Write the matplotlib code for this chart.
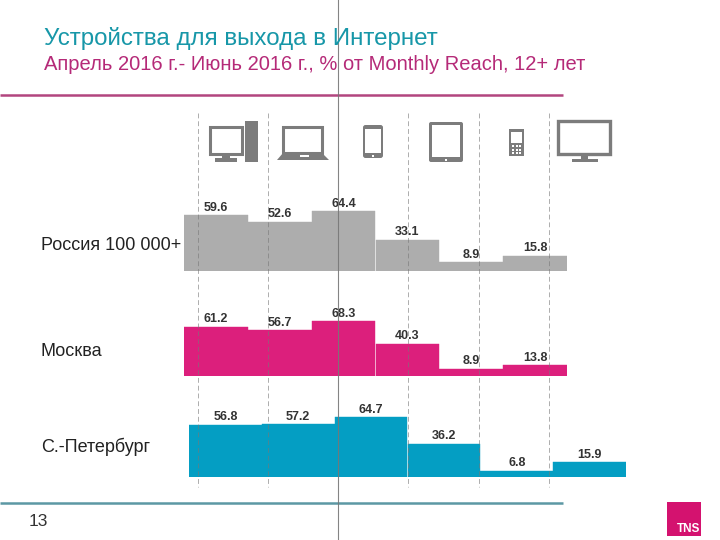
#!/usr/bin/env python3
"""Internet access devices by city, TNS slide"""

import matplotlib
matplotlib.use('Agg')
import matplotlib.pyplot as plt
from matplotlib.patches import Rectangle, Polygon, FancyBboxPatch

plt.rcParams['font.family'] = ['Liberation Sans', 'DejaVu Sans']

title = 'Устройства для выхода в Интернет'
subtitle = 'Апрель 2016 г.- Июнь 2016 г., % от Monthly Reach, 12+ лет'
page_number = '13'

cities = ['Россия 100 000+', 'Москва', 'С.-Петербург']
russia = [59.6, 52.6, 64.4, 33.1, 8.9, 15.8]
moscow = [61.2, 56.7, 68.3, 40.3, 8.9, 13.8]
spb = [56.8, 57.2, 64.7, 36.2, 6.8, 15.9]

W, H = 720, 540
GREY_ICON = '#7c7c7c'

fig = plt.figure(figsize=(W / 100, H / 100), dpi=100, facecolor='white')


def px_axes(x0, y0, x1, y1, **kw):
    """Axes placed by pixel box (y measured from the top)"""
    a = fig.add_axes([x0 / W, 1 - y1 / H, (x1 - x0) / W, (y1 - y0) / H], **kw)
    a.axis('off')
    return a


def draw_row(values, box, px_per_unit, color):
    x0, x1, base = box
    top = base - 100 * px_per_unit
    a = px_axes(x0, top, x1, base, zorder=2)
    a.bar(range(len(values)), values, width=1.0, color=color, edgecolor=color, linewidth=0.3)
    a.set_xlim(-0.5, len(values) - 0.5)
    a.set_ylim(0, 100)
    for i, v in enumerate(values):
        a.annotate(f'{v}', (i, v), xytext=(0, 1), textcoords='offset points',
                   ha='center', va='bottom', fontsize=9, color='#333333',
                   fontweight='bold', zorder=5, clip_on=False)


# bar rows
draw_row(russia, (184, 567, 270.5), 0.925, '#adadad')
draw_row(moscow, (184, 567, 376), 0.805, '#dc1f7c')
draw_row(spb, (189, 626, 477), 0.92, '#049ec3')

# overlay in pixel coordinates for the slide furniture
ov = px_axes(0, 0, W, H, zorder=3)
ov.set_xlim(0, W)
ov.set_ylim(H, 0)

ov.text(44, 38, title, fontsize=17.4, color='#1797a8', va='center', ha='left')
ov.text(44, 65, subtitle, fontsize=14.5, color='#b52a78', va='center', ha='left')

ov.plot([0, 563], [95, 95], color='#b2457f', lw=1.8, solid_capstyle='butt')
ov.plot([0, 563], [502.5, 502.5], color='#5c98a4', lw=1.8, solid_capstyle='butt')

# column separators
for x in [197.5, 267.5, 407.5, 478.5, 548.5]:
    ov.plot([x, x], [113, 487], color='#777777', lw=0.7, ls=(0, (5, 3)), alpha=0.6)
ov.plot([337.5, 337.5], [0, H], color='#777777', lw=0.8, alpha=0.9)

for name, y in zip(cities, [245, 351, 447]):
    ov.text(41, y, name, fontsize=13, color='#222222', va='center', ha='left',
            zorder=6)

ov.text(38, 522, page_number, fontsize=12.5, color='#333333', va='center', ha='center')

# TNS logo
ov.add_patch(Rectangle((667, 502), 34, 34, color='#d4126f', lw=0))
ov.text(700, 529.5, 'TNS', fontsize=8.5, color='white', fontweight='bold',
        va='center', ha='right')


def box(x, y, w, h, fc=GREY_ICON, **kw):
    ov.add_patch(Rectangle((x, y), w, h, facecolor=fc, edgecolor='none', **kw))


def outline(x, y, w, h, lw=2.2):
    ov.add_patch(Rectangle((x, y), w, h, facecolor='none', edgecolor=GREY_ICON, lw=lw))


# desktop
outline(210, 127, 32, 27)
box(222, 154, 8, 5)
box(215, 158, 22, 4)
box(245, 121, 13, 41)
# laptop
outline(283, 127, 39, 26)
ov.add_patch(Polygon([(283, 153), (322, 153), (329, 160), (277, 160)],
                     facecolor=GREY_ICON, edgecolor='none'))
box(300, 155, 9, 2, fc='white')
# smartphone
ov.add_patch(FancyBboxPatch((363, 125), 20, 33, boxstyle='round,pad=0,rounding_size=2.5',
                            facecolor=GREY_ICON, edgecolor='none'))
box(365, 129, 16, 24, fc='white')
box(372, 155, 2, 2, fc='white')
# tablet
ov.add_patch(FancyBboxPatch((429, 122), 34, 40, boxstyle='round,pad=0,rounding_size=2',
                            facecolor=GREY_ICON, edgecolor='none'))
box(432, 125, 28, 32, fc='white')
box(445, 159, 2, 2, fc='white')
# feature phone
box(509, 129, 15, 27)
box(511, 132, 11, 11, fc='white')
for gx in [512, 515.5, 519]:
    for gy in [145, 148.5, 152]:
        box(gx, gy, 2.3, 2.3, fc='white')
# tv
outline(558, 121, 52, 33, lw=2.4)
box(581, 155, 7, 4)
box(572, 159, 26, 3)

fig.savefig('out.png', dpi=100, facecolor='white')
